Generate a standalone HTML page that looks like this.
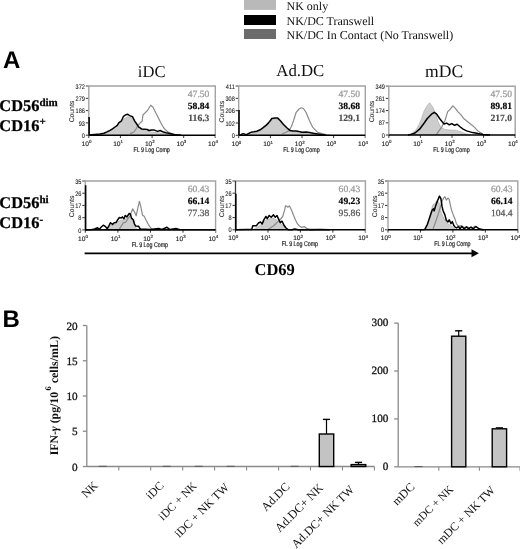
<!DOCTYPE html>
<html><head><meta charset="utf-8"><title>figure</title>
<style>html,body{margin:0;padding:0;background:#fff;width:520px;height:549px;overflow:hidden;}svg{display:block;will-change:transform;}text{text-rendering:geometricPrecision;}</style>
</head><body>
<svg width="520" height="549" viewBox="0 0 520 549">
<rect width="520" height="549" fill="#fff"/>
<rect x="244" y="0" width="32" height="9.9" fill="#b9b9b9"/>
<rect x="244" y="15" width="32" height="10" fill="#000"/>
<rect x="244" y="29" width="32" height="10" fill="#6c6c6c"/>
<text x="286.5" y="10.2" font-family='"Liberation Serif", serif' font-size="12" fill="#111">NK only</text>
<text x="286.5" y="24.6" font-family='"Liberation Serif", serif' font-size="12" fill="#111">NK/DC Transwell</text>
<text x="286.5" y="39.0" font-family='"Liberation Serif", serif' font-size="12" fill="#111">NK/DC In Contact (No Transwell)</text>
<text x="3" y="68" font-family='"Liberation Sans", sans-serif' font-weight="bold" font-size="24" fill="#000">A</text>
<text x="2.6" y="327.1" font-family='"Liberation Sans", sans-serif' font-weight="bold" font-size="24" fill="#000">B</text>
<text x="137.8" y="76.6" font-family='"Liberation Serif", serif' font-size="16.6" fill="#111">iDC</text>
<text x="276.3" y="76.2" font-family='"Liberation Serif", serif' font-size="16.8" fill="#111">Ad.DC</text>
<text x="425.0" y="76.5" font-family='"Liberation Serif", serif' font-size="17.6" fill="#111">mDC</text>
<text x="-0.7" y="111.1" font-family='"Liberation Serif", serif' font-weight="bold" font-size="16.4" fill="#000" stroke="#000" stroke-width="0.25">CD56<tspan dy="-5" font-size="11">dim</tspan></text>
<text x="-0.7" y="131.4" font-family='"Liberation Serif", serif' font-weight="bold" font-size="16.4" fill="#000" stroke="#000" stroke-width="0.25">CD16<tspan dy="-6" font-size="11">+</tspan></text>
<text x="-0.7" y="207.6" font-family='"Liberation Serif", serif' font-weight="bold" font-size="16.4" fill="#000" stroke="#000" stroke-width="0.25">CD56<tspan dy="-5" font-size="11">hi</tspan></text>
<text x="-0.7" y="227.6" font-family='"Liberation Serif", serif' font-weight="bold" font-size="16.4" fill="#000" stroke="#000" stroke-width="0.25">CD16<tspan dy="-5" font-size="11">-</tspan></text>
<line x1="85.8" y1="86.0" x2="88.8" y2="86.0" stroke="#333" stroke-width="1.0"/>
<text x="84.9" y="88.6" font-family='"Liberation Sans", sans-serif' font-size="6.6" fill="#222" stroke="#222" stroke-width="0.12" text-anchor="end" transform="translate(84.9,0) scale(0.85,1) translate(-84.9,0)">372</text>
<line x1="85.8" y1="98.3" x2="88.8" y2="98.3" stroke="#333" stroke-width="1.0"/>
<text x="84.9" y="100.9" font-family='"Liberation Sans", sans-serif' font-size="6.6" fill="#222" stroke="#222" stroke-width="0.12" text-anchor="end" transform="translate(84.9,0) scale(0.85,1) translate(-84.9,0)">279</text>
<line x1="85.8" y1="110.6" x2="88.8" y2="110.6" stroke="#333" stroke-width="1.0"/>
<text x="84.9" y="113.2" font-family='"Liberation Sans", sans-serif' font-size="6.6" fill="#222" stroke="#222" stroke-width="0.12" text-anchor="end" transform="translate(84.9,0) scale(0.85,1) translate(-84.9,0)">186</text>
<line x1="85.8" y1="122.9" x2="88.8" y2="122.9" stroke="#333" stroke-width="1.0"/>
<text x="84.9" y="125.5" font-family='"Liberation Sans", sans-serif' font-size="6.6" fill="#222" stroke="#222" stroke-width="0.12" text-anchor="end" transform="translate(84.9,0) scale(0.85,1) translate(-84.9,0)">93</text>
<line x1="85.8" y1="135.2" x2="88.8" y2="135.2" stroke="#333" stroke-width="1.0"/>
<text x="84.9" y="137.8" font-family='"Liberation Sans", sans-serif' font-size="6.6" fill="#222" stroke="#222" stroke-width="0.12" text-anchor="end" transform="translate(84.9,0) scale(0.85,1) translate(-84.9,0)">0</text>
<text x="0" y="0" font-family='"Liberation Sans", sans-serif' font-size="6.8" fill="#333" stroke="#333" stroke-width="0.12" text-anchor="middle" transform="translate(73.8,111.6) rotate(-90)">Counts</text>
<line x1="88.8" y1="135.2" x2="88.8" y2="138.0" stroke="#333" stroke-width="1.0"/>
<text x="86.5" y="145.8" font-family='"Liberation Sans", sans-serif' font-size="6.6" fill="#222" stroke="#222" stroke-width="0.15" text-anchor="middle">10<tspan dy="-2.4" font-size="4.4">0</tspan></text>
<line x1="120.4" y1="135.2" x2="120.4" y2="138.0" stroke="#333" stroke-width="1.0"/>
<text x="118.1" y="145.8" font-family='"Liberation Sans", sans-serif' font-size="6.6" fill="#222" stroke="#222" stroke-width="0.15" text-anchor="middle">10<tspan dy="-2.4" font-size="4.4">1</tspan></text>
<line x1="152.1" y1="135.2" x2="152.1" y2="138.0" stroke="#333" stroke-width="1.0"/>
<text x="149.8" y="145.8" font-family='"Liberation Sans", sans-serif' font-size="6.6" fill="#222" stroke="#222" stroke-width="0.15" text-anchor="middle">10<tspan dy="-2.4" font-size="4.4">2</tspan></text>
<line x1="183.7" y1="135.2" x2="183.7" y2="138.0" stroke="#333" stroke-width="1.0"/>
<text x="181.4" y="145.8" font-family='"Liberation Sans", sans-serif' font-size="6.6" fill="#222" stroke="#222" stroke-width="0.15" text-anchor="middle">10<tspan dy="-2.4" font-size="4.4">3</tspan></text>
<line x1="215.3" y1="135.2" x2="215.3" y2="138.0" stroke="#333" stroke-width="1.0"/>
<text x="213.0" y="145.8" font-family='"Liberation Sans", sans-serif' font-size="6.6" fill="#222" stroke="#222" stroke-width="0.15" text-anchor="middle">10<tspan dy="-2.4" font-size="4.4">4</tspan></text>
<text x="0" y="0" font-family='"Liberation Sans", sans-serif' font-size="6.8" fill="#222" stroke="#222" stroke-width="0.2" text-anchor="middle" transform="translate(151.6,151.8) scale(0.78,1)">FL 9 Log Comp</text>
<polygon points="89.0,135.2 89.0,135.0 99.0,134.5 107.5,132.5 113.0,128.5 118.3,124.5 123.0,119.5 127.7,116.5 131.0,117.5 134.0,120.5 137.0,125.0 140.0,128.5 145.0,131.0 152.0,132.0 160.0,133.0 166.0,133.8 174.0,134.8 174.0,135.2" fill="#cdcdcd" stroke="#a8a8a8" stroke-width="0.6"/>
<polyline points="130.0,133.6 134.0,132.0 136.0,129.0 138.0,125.5 140.0,123.2 142.2,121.0 142.9,115.0 145.8,112.1 147.5,110.5 149.0,108.0 150.7,105.2 153.0,107.2 155.6,112.4 158.3,117.7 160.9,123.0 163.5,127.5 165.5,129.8 168.0,132.0 173.0,134.3 181.0,135.2" fill="none" stroke="#8a8a8a" stroke-width="1.2" stroke-linejoin="round"/>
<polyline points="88.8,135.2 88.8,86.0 215.3,86.0 215.3,137.8" fill="none" stroke="#a3a3a3" stroke-width="1.4"/>
<line x1="86.0" y1="86.0" x2="88.8" y2="86.0" stroke="#a3a3a3" stroke-width="1.4"/>
<line x1="89.1" y1="117.0" x2="89.1" y2="135.2" stroke="#000" stroke-width="1.6"/>
<polyline points="89.0,135.0 100.0,134.0 104.0,133.2 106.9,131.9 110.0,130.3 112.5,128.8 115.0,127.0 117.3,125.3 118.7,122.9 121.5,120.8 123.5,116.3 125.6,114.9 127.4,114.2 129.8,115.6 132.5,116.7 134.6,120.8 136.4,123.5 138.6,126.8 141.9,129.1 144.5,129.2 147.1,129.5 149.1,130.5 151.5,129.9 154.3,130.1 157.6,131.4 160.2,130.5 163.5,132.1 166.0,132.7 168.5,133.2 174.4,134.4 181.0,135.2" fill="none" stroke="#000" stroke-width="1.5" stroke-linejoin="round"/>
<line x1="88.8" y1="135.2" x2="215.3" y2="135.2" stroke="#000" stroke-width="1.6"/>
<text x="209.4" y="97.0" font-family='"Liberation Serif", serif' font-size="9.6" font-weight="normal" fill="#9a9a9a" stroke="#9a9a9a" stroke-width="0.25" text-anchor="end">47.50</text>
<text x="209.4" y="108.8" font-family='"Liberation Serif", serif' font-size="9.6" font-weight="bold" fill="#000" stroke="#000" stroke-width="0.15" text-anchor="end">58.84</text>
<text x="209.4" y="120.7" font-family='"Liberation Serif", serif' font-size="9.6" font-weight="bold" fill="#4a4a4a" stroke="#4a4a4a" stroke-width="0.15" text-anchor="end">116.3</text>
<line x1="235.7" y1="86.0" x2="238.7" y2="86.0" stroke="#333" stroke-width="1.0"/>
<text x="234.8" y="88.6" font-family='"Liberation Sans", sans-serif' font-size="6.6" fill="#222" stroke="#222" stroke-width="0.12" text-anchor="end" transform="translate(234.8,0) scale(0.85,1) translate(-234.8,0)">411</text>
<line x1="235.7" y1="98.3" x2="238.7" y2="98.3" stroke="#333" stroke-width="1.0"/>
<text x="234.8" y="100.9" font-family='"Liberation Sans", sans-serif' font-size="6.6" fill="#222" stroke="#222" stroke-width="0.12" text-anchor="end" transform="translate(234.8,0) scale(0.85,1) translate(-234.8,0)">308</text>
<line x1="235.7" y1="110.7" x2="238.7" y2="110.7" stroke="#333" stroke-width="1.0"/>
<text x="234.8" y="113.2" font-family='"Liberation Sans", sans-serif' font-size="6.6" fill="#222" stroke="#222" stroke-width="0.12" text-anchor="end" transform="translate(234.8,0) scale(0.85,1) translate(-234.8,0)">206</text>
<line x1="235.7" y1="123.0" x2="238.7" y2="123.0" stroke="#333" stroke-width="1.0"/>
<text x="234.8" y="125.6" font-family='"Liberation Sans", sans-serif' font-size="6.6" fill="#222" stroke="#222" stroke-width="0.12" text-anchor="end" transform="translate(234.8,0) scale(0.85,1) translate(-234.8,0)">102</text>
<line x1="235.7" y1="135.3" x2="238.7" y2="135.3" stroke="#333" stroke-width="1.0"/>
<text x="234.8" y="137.9" font-family='"Liberation Sans", sans-serif' font-size="6.6" fill="#222" stroke="#222" stroke-width="0.12" text-anchor="end" transform="translate(234.8,0) scale(0.85,1) translate(-234.8,0)">0</text>
<text x="0" y="0" font-family='"Liberation Sans", sans-serif' font-size="6.8" fill="#333" stroke="#333" stroke-width="0.12" text-anchor="middle" transform="translate(223.7,111.7) rotate(-90)">Counts</text>
<line x1="238.7" y1="135.3" x2="238.7" y2="138.1" stroke="#333" stroke-width="1.0"/>
<text x="236.4" y="145.9" font-family='"Liberation Sans", sans-serif' font-size="6.6" fill="#222" stroke="#222" stroke-width="0.15" text-anchor="middle">10<tspan dy="-2.4" font-size="4.4">0</tspan></text>
<line x1="270.4" y1="135.3" x2="270.4" y2="138.1" stroke="#333" stroke-width="1.0"/>
<text x="268.1" y="145.9" font-family='"Liberation Sans", sans-serif' font-size="6.6" fill="#222" stroke="#222" stroke-width="0.15" text-anchor="middle">10<tspan dy="-2.4" font-size="4.4">1</tspan></text>
<line x1="302.0" y1="135.3" x2="302.0" y2="138.1" stroke="#333" stroke-width="1.0"/>
<text x="299.7" y="145.9" font-family='"Liberation Sans", sans-serif' font-size="6.6" fill="#222" stroke="#222" stroke-width="0.15" text-anchor="middle">10<tspan dy="-2.4" font-size="4.4">2</tspan></text>
<line x1="333.6" y1="135.3" x2="333.6" y2="138.1" stroke="#333" stroke-width="1.0"/>
<text x="331.3" y="145.9" font-family='"Liberation Sans", sans-serif' font-size="6.6" fill="#222" stroke="#222" stroke-width="0.15" text-anchor="middle">10<tspan dy="-2.4" font-size="4.4">3</tspan></text>
<line x1="365.3" y1="135.3" x2="365.3" y2="138.1" stroke="#333" stroke-width="1.0"/>
<text x="363.0" y="145.9" font-family='"Liberation Sans", sans-serif' font-size="6.6" fill="#222" stroke="#222" stroke-width="0.15" text-anchor="middle">10<tspan dy="-2.4" font-size="4.4">4</tspan></text>
<text x="0" y="0" font-family='"Liberation Sans", sans-serif' font-size="6.8" fill="#222" stroke="#222" stroke-width="0.2" text-anchor="middle" transform="translate(301.5,151.9) scale(0.78,1)">FL 9 Log Comp</text>
<polygon points="249.0,135.3 249.0,135.0 252.0,133.6 256.0,132.6 260.0,131.0 263.0,128.6 266.0,126.4 268.5,124.0 271.0,121.0 272.5,119.6 275.2,119.0 277.5,119.0 280.0,121.6 283.0,125.0 286.5,128.6 290.0,131.3 296.0,132.2 302.0,133.2 312.0,134.0 322.0,134.9 322.0,135.3" fill="#cdcdcd" stroke="#a8a8a8" stroke-width="0.6"/>
<polyline points="282.2,134.0 286.0,132.2 289.1,130.6 291.4,126.5 293.7,120.2 296.0,112.7 299.0,109.0 301.3,107.8 303.5,108.5 306.2,112.7 309.5,120.8 312.8,127.4 317.7,132.3 325.8,134.7 330.0,135.3" fill="none" stroke="#8a8a8a" stroke-width="1.2" stroke-linejoin="round"/>
<polyline points="238.7,135.3 238.7,86.0 365.3,86.0 365.3,137.9" fill="none" stroke="#a3a3a3" stroke-width="1.4"/>
<line x1="235.9" y1="86.0" x2="238.7" y2="86.0" stroke="#a3a3a3" stroke-width="1.4"/>
<line x1="239.0" y1="110.0" x2="239.0" y2="135.3" stroke="#000" stroke-width="1.6"/>
<polyline points="239.0,135.2 241.0,134.6 243.0,133.6 245.0,134.3 247.0,134.4 248.7,133.5 251.0,132.3 254.0,131.8 256.8,131.2 260.2,129.8 263.1,127.7 266.0,125.4 268.3,123.1 270.6,120.2 271.8,118.5 275.2,117.9 277.5,117.9 280.4,120.8 283.3,124.2 286.8,127.7 290.2,130.6 293.0,131.0 296.0,130.9 299.0,131.6 302.0,132.2 306.0,132.0 309.5,132.6 313.0,133.2 317.7,134.0 325.8,135.3" fill="none" stroke="#000" stroke-width="1.5" stroke-linejoin="round"/>
<line x1="238.7" y1="135.3" x2="365.3" y2="135.3" stroke="#000" stroke-width="1.6"/>
<text x="360.1" y="97.0" font-family='"Liberation Serif", serif' font-size="9.6" font-weight="normal" fill="#9a9a9a" stroke="#9a9a9a" stroke-width="0.25" text-anchor="end">47.50</text>
<text x="360.1" y="108.8" font-family='"Liberation Serif", serif' font-size="9.6" font-weight="bold" fill="#000" stroke="#000" stroke-width="0.15" text-anchor="end">38.68</text>
<text x="360.1" y="120.7" font-family='"Liberation Serif", serif' font-size="9.6" font-weight="bold" fill="#4a4a4a" stroke="#4a4a4a" stroke-width="0.15" text-anchor="end">129.1</text>
<line x1="385.8" y1="86.2" x2="388.8" y2="86.2" stroke="#333" stroke-width="1.0"/>
<text x="384.9" y="88.8" font-family='"Liberation Sans", sans-serif' font-size="6.6" fill="#222" stroke="#222" stroke-width="0.12" text-anchor="end" transform="translate(384.9,0) scale(0.85,1) translate(-384.9,0)">349</text>
<line x1="385.8" y1="98.4" x2="388.8" y2="98.4" stroke="#333" stroke-width="1.0"/>
<text x="384.9" y="101.0" font-family='"Liberation Sans", sans-serif' font-size="6.6" fill="#222" stroke="#222" stroke-width="0.12" text-anchor="end" transform="translate(384.9,0) scale(0.85,1) translate(-384.9,0)">261</text>
<line x1="385.8" y1="110.6" x2="388.8" y2="110.6" stroke="#333" stroke-width="1.0"/>
<text x="384.9" y="113.2" font-family='"Liberation Sans", sans-serif' font-size="6.6" fill="#222" stroke="#222" stroke-width="0.12" text-anchor="end" transform="translate(384.9,0) scale(0.85,1) translate(-384.9,0)">174</text>
<line x1="385.8" y1="122.8" x2="388.8" y2="122.8" stroke="#333" stroke-width="1.0"/>
<text x="384.9" y="125.4" font-family='"Liberation Sans", sans-serif' font-size="6.6" fill="#222" stroke="#222" stroke-width="0.12" text-anchor="end" transform="translate(384.9,0) scale(0.85,1) translate(-384.9,0)">87</text>
<line x1="385.8" y1="135.0" x2="388.8" y2="135.0" stroke="#333" stroke-width="1.0"/>
<text x="384.9" y="137.6" font-family='"Liberation Sans", sans-serif' font-size="6.6" fill="#222" stroke="#222" stroke-width="0.12" text-anchor="end" transform="translate(384.9,0) scale(0.85,1) translate(-384.9,0)">0</text>
<text x="0" y="0" font-family='"Liberation Sans", sans-serif' font-size="6.8" fill="#333" stroke="#333" stroke-width="0.12" text-anchor="middle" transform="translate(373.8,111.6) rotate(-90)">Counts</text>
<line x1="388.8" y1="135.0" x2="388.8" y2="137.8" stroke="#333" stroke-width="1.0"/>
<text x="386.5" y="145.6" font-family='"Liberation Sans", sans-serif' font-size="6.6" fill="#222" stroke="#222" stroke-width="0.15" text-anchor="middle">10<tspan dy="-2.4" font-size="4.4">0</tspan></text>
<line x1="420.4" y1="135.0" x2="420.4" y2="137.8" stroke="#333" stroke-width="1.0"/>
<text x="418.1" y="145.6" font-family='"Liberation Sans", sans-serif' font-size="6.6" fill="#222" stroke="#222" stroke-width="0.15" text-anchor="middle">10<tspan dy="-2.4" font-size="4.4">1</tspan></text>
<line x1="452.0" y1="135.0" x2="452.0" y2="137.8" stroke="#333" stroke-width="1.0"/>
<text x="449.7" y="145.6" font-family='"Liberation Sans", sans-serif' font-size="6.6" fill="#222" stroke="#222" stroke-width="0.15" text-anchor="middle">10<tspan dy="-2.4" font-size="4.4">2</tspan></text>
<line x1="483.6" y1="135.0" x2="483.6" y2="137.8" stroke="#333" stroke-width="1.0"/>
<text x="481.3" y="145.6" font-family='"Liberation Sans", sans-serif' font-size="6.6" fill="#222" stroke="#222" stroke-width="0.15" text-anchor="middle">10<tspan dy="-2.4" font-size="4.4">3</tspan></text>
<line x1="515.2" y1="135.0" x2="515.2" y2="137.8" stroke="#333" stroke-width="1.0"/>
<text x="512.9" y="145.6" font-family='"Liberation Sans", sans-serif' font-size="6.6" fill="#222" stroke="#222" stroke-width="0.15" text-anchor="middle">10<tspan dy="-2.4" font-size="4.4">4</tspan></text>
<text x="0" y="0" font-family='"Liberation Sans", sans-serif' font-size="6.8" fill="#222" stroke="#222" stroke-width="0.2" text-anchor="middle" transform="translate(451.5,151.6) scale(0.78,1)">FL 9 Log Comp</text>
<polygon points="409.6,135.0 409.6,134.8 413.0,132.5 416.5,129.2 419.0,124.5 421.0,120.0 424.2,110.8 427.3,105.4 429.6,102.8 432.7,107.0 435.8,113.8 438.0,121.5 441.0,127.7 445.0,129.5 450.0,130.0 455.0,130.2 460.0,131.5 465.0,133.5 470.0,134.8 470.0,135.0" fill="#cdcdcd" stroke="#a8a8a8" stroke-width="0.6"/>
<polyline points="436.3,134.6 441.5,127.4 445.0,120.5 447.6,111.8 450.2,109.2 452.8,105.8 455.4,108.4 458.0,111.8 460.6,114.4 464.0,118.8 468.3,122.2 472.7,125.7 477.9,130.9 483.0,134.3 488.0,135.0" fill="none" stroke="#8a8a8a" stroke-width="1.2" stroke-linejoin="round"/>
<polyline points="388.8,135.0 388.8,86.2 515.2,86.2 515.2,137.6" fill="none" stroke="#a3a3a3" stroke-width="1.4"/>
<line x1="386.0" y1="86.2" x2="388.8" y2="86.2" stroke="#a3a3a3" stroke-width="1.4"/>
<polyline points="408.0,135.0 410.4,134.6 415.0,133.0 419.6,129.2 424.2,123.0 427.3,118.5 432.0,113.8 434.2,112.3 436.5,113.8 439.6,118.5 442.0,121.5 444.1,124.0 446.7,123.1 449.3,124.8 451.9,123.6 454.5,125.3 457.1,124.3 459.7,126.5 463.1,129.1 466.6,130.9 472.7,132.6 478.0,133.6 483.0,134.4 490.0,135.0" fill="none" stroke="#000" stroke-width="1.5" stroke-linejoin="round"/>
<line x1="388.8" y1="135.0" x2="515.2" y2="135.0" stroke="#000" stroke-width="1.6"/>
<text x="512.0" y="97.2" font-family='"Liberation Serif", serif' font-size="9.6" font-weight="normal" fill="#9a9a9a" stroke="#9a9a9a" stroke-width="0.25" text-anchor="end">47.50</text>
<text x="512.0" y="109.0" font-family='"Liberation Serif", serif' font-size="9.6" font-weight="bold" fill="#000" stroke="#000" stroke-width="0.15" text-anchor="end">89.81</text>
<text x="512.0" y="120.9" font-family='"Liberation Serif", serif' font-size="9.6" font-weight="bold" fill="#4a4a4a" stroke="#4a4a4a" stroke-width="0.15" text-anchor="end">217.0</text>
<line x1="82.3" y1="181.0" x2="85.3" y2="181.0" stroke="#333" stroke-width="1.0"/>
<text x="81.4" y="183.6" font-family='"Liberation Sans", sans-serif' font-size="6.6" fill="#222" stroke="#222" stroke-width="0.12" text-anchor="end" transform="translate(81.4,0) scale(0.85,1) translate(-81.4,0)">35</text>
<line x1="82.3" y1="193.2" x2="85.3" y2="193.2" stroke="#333" stroke-width="1.0"/>
<text x="81.4" y="195.8" font-family='"Liberation Sans", sans-serif' font-size="6.6" fill="#222" stroke="#222" stroke-width="0.12" text-anchor="end" transform="translate(81.4,0) scale(0.85,1) translate(-81.4,0)">26</text>
<line x1="82.3" y1="205.4" x2="85.3" y2="205.4" stroke="#333" stroke-width="1.0"/>
<text x="81.4" y="208.0" font-family='"Liberation Sans", sans-serif' font-size="6.6" fill="#222" stroke="#222" stroke-width="0.12" text-anchor="end" transform="translate(81.4,0) scale(0.85,1) translate(-81.4,0)">17</text>
<line x1="82.3" y1="217.7" x2="85.3" y2="217.7" stroke="#333" stroke-width="1.0"/>
<text x="81.4" y="220.3" font-family='"Liberation Sans", sans-serif' font-size="6.6" fill="#222" stroke="#222" stroke-width="0.12" text-anchor="end" transform="translate(81.4,0) scale(0.85,1) translate(-81.4,0)">8</text>
<line x1="82.3" y1="229.9" x2="85.3" y2="229.9" stroke="#333" stroke-width="1.0"/>
<text x="81.4" y="232.5" font-family='"Liberation Sans", sans-serif' font-size="6.6" fill="#222" stroke="#222" stroke-width="0.12" text-anchor="end" transform="translate(81.4,0) scale(0.85,1) translate(-81.4,0)">0</text>
<text x="0" y="0" font-family='"Liberation Sans", sans-serif' font-size="6.8" fill="#333" stroke="#333" stroke-width="0.12" text-anchor="middle" transform="translate(74.0,206.4) rotate(-90)">Counts</text>
<line x1="85.3" y1="229.9" x2="85.3" y2="232.7" stroke="#333" stroke-width="1.0"/>
<text x="83.0" y="240.5" font-family='"Liberation Sans", sans-serif' font-size="6.6" fill="#222" stroke="#222" stroke-width="0.15" text-anchor="middle">10<tspan dy="-2.4" font-size="4.4">0</tspan></text>
<line x1="117.9" y1="229.9" x2="117.9" y2="232.7" stroke="#333" stroke-width="1.0"/>
<text x="115.6" y="240.5" font-family='"Liberation Sans", sans-serif' font-size="6.6" fill="#222" stroke="#222" stroke-width="0.15" text-anchor="middle">10<tspan dy="-2.4" font-size="4.4">1</tspan></text>
<line x1="150.4" y1="229.9" x2="150.4" y2="232.7" stroke="#333" stroke-width="1.0"/>
<text x="148.1" y="240.5" font-family='"Liberation Sans", sans-serif' font-size="6.6" fill="#222" stroke="#222" stroke-width="0.15" text-anchor="middle">10<tspan dy="-2.4" font-size="4.4">2</tspan></text>
<line x1="183.0" y1="229.9" x2="183.0" y2="232.7" stroke="#333" stroke-width="1.0"/>
<text x="180.7" y="240.5" font-family='"Liberation Sans", sans-serif' font-size="6.6" fill="#222" stroke="#222" stroke-width="0.15" text-anchor="middle">10<tspan dy="-2.4" font-size="4.4">3</tspan></text>
<line x1="215.6" y1="229.9" x2="215.6" y2="232.7" stroke="#333" stroke-width="1.0"/>
<text x="213.3" y="240.5" font-family='"Liberation Sans", sans-serif' font-size="6.6" fill="#222" stroke="#222" stroke-width="0.15" text-anchor="middle">10<tspan dy="-2.4" font-size="4.4">4</tspan></text>
<text x="0" y="0" font-family='"Liberation Sans", sans-serif' font-size="6.8" fill="#222" stroke="#222" stroke-width="0.2" text-anchor="middle" transform="translate(149.9,246.5) scale(0.78,1)">FL 9 Log Comp</text>
<polygon points="106.2,229.9 106.2,229.8 108.0,227.2 110.5,225.2 113.0,225.0 116.0,223.6 118.5,221.3 121.0,220.3 124.0,219.8 126.5,218.6 129.0,217.2 130.5,217.4 132.0,219.5 134.0,223.5 135.5,226.5 137.0,229.8 137.0,229.9" fill="#cdcdcd" stroke="#a8a8a8" stroke-width="0.6"/>
<polyline points="119.0,229.6 121.2,226.2 123.5,222.7 125.8,222.1 127.5,219.2 129.8,215.8 131.5,212.3 132.7,208.8 134.4,211.7 136.2,215.8 137.9,207.7 139.4,201.3 140.8,206.5 142.5,215.2 144.2,216.3 146.5,221.0 149.4,226.2 152.0,229.3 155.0,229.8" fill="none" stroke="#8a8a8a" stroke-width="1.2" stroke-linejoin="round"/>
<polyline points="85.3,229.9 85.3,181.0 215.6,181.0 215.6,232.5" fill="none" stroke="#a3a3a3" stroke-width="1.4"/>
<line x1="82.5" y1="181.0" x2="85.3" y2="181.0" stroke="#a3a3a3" stroke-width="1.4"/>
<line x1="85.6" y1="185.3" x2="85.6" y2="229.9" stroke="#000" stroke-width="1.6"/>
<polyline points="85.5,229.8 92.0,229.6 94.6,229.0 97.5,227.7 99.2,229.4 101.0,227.3 103.3,225.2 105.6,226.7 107.3,228.7 109.0,225.6 110.5,222.7 112.5,224.4 114.2,222.7 116.0,222.5 117.7,219.8 119.4,217.5 121.2,218.1 122.3,216.9 124.0,218.7 125.2,215.5 126.9,216.9 129.2,213.5 130.4,214.0 131.5,218.1 133.3,219.8 134.4,223.8 135.6,225.9 138.5,226.2 140.2,229.0 150.0,229.5 158.5,228.5 162.0,229.5 167.0,227.3 170.0,229.5 175.8,228.5 180.0,229.8" fill="none" stroke="#000" stroke-width="1.5" stroke-linejoin="round"/>
<line x1="85.3" y1="229.9" x2="215.6" y2="229.9" stroke="#000" stroke-width="1.6"/>
<text x="209.4" y="192.0" font-family='"Liberation Serif", serif' font-size="9.6" font-weight="normal" fill="#9a9a9a" stroke="#9a9a9a" stroke-width="0.25" text-anchor="end">60.43</text>
<text x="209.4" y="203.8" font-family='"Liberation Serif", serif' font-size="9.6" font-weight="bold" fill="#000" stroke="#000" stroke-width="0.15" text-anchor="end">66.14</text>
<text x="209.4" y="215.7" font-family='"Liberation Serif", serif' font-size="9.6" font-weight="normal" fill="#555" stroke="#555" stroke-width="0.25" text-anchor="end">77.38</text>
<line x1="232.5" y1="181.0" x2="235.5" y2="181.0" stroke="#333" stroke-width="1.0"/>
<text x="231.6" y="183.6" font-family='"Liberation Sans", sans-serif' font-size="6.6" fill="#222" stroke="#222" stroke-width="0.12" text-anchor="end" transform="translate(231.6,0) scale(0.85,1) translate(-231.6,0)">35</text>
<line x1="232.5" y1="193.2" x2="235.5" y2="193.2" stroke="#333" stroke-width="1.0"/>
<text x="231.6" y="195.8" font-family='"Liberation Sans", sans-serif' font-size="6.6" fill="#222" stroke="#222" stroke-width="0.12" text-anchor="end" transform="translate(231.6,0) scale(0.85,1) translate(-231.6,0)">26</text>
<line x1="232.5" y1="205.4" x2="235.5" y2="205.4" stroke="#333" stroke-width="1.0"/>
<text x="231.6" y="208.0" font-family='"Liberation Sans", sans-serif' font-size="6.6" fill="#222" stroke="#222" stroke-width="0.12" text-anchor="end" transform="translate(231.6,0) scale(0.85,1) translate(-231.6,0)">17</text>
<line x1="232.5" y1="217.6" x2="235.5" y2="217.6" stroke="#333" stroke-width="1.0"/>
<text x="231.6" y="220.2" font-family='"Liberation Sans", sans-serif' font-size="6.6" fill="#222" stroke="#222" stroke-width="0.12" text-anchor="end" transform="translate(231.6,0) scale(0.85,1) translate(-231.6,0)">8</text>
<line x1="232.5" y1="229.8" x2="235.5" y2="229.8" stroke="#333" stroke-width="1.0"/>
<text x="231.6" y="232.4" font-family='"Liberation Sans", sans-serif' font-size="6.6" fill="#222" stroke="#222" stroke-width="0.12" text-anchor="end" transform="translate(231.6,0) scale(0.85,1) translate(-231.6,0)">0</text>
<text x="0" y="0" font-family='"Liberation Sans", sans-serif' font-size="6.8" fill="#333" stroke="#333" stroke-width="0.12" text-anchor="middle" transform="translate(224.2,206.4) rotate(-90)">Counts</text>
<line x1="235.5" y1="229.8" x2="235.5" y2="232.6" stroke="#333" stroke-width="1.0"/>
<text x="233.2" y="240.4" font-family='"Liberation Sans", sans-serif' font-size="6.6" fill="#222" stroke="#222" stroke-width="0.15" text-anchor="middle">10<tspan dy="-2.4" font-size="4.4">0</tspan></text>
<line x1="268.0" y1="229.8" x2="268.0" y2="232.6" stroke="#333" stroke-width="1.0"/>
<text x="265.7" y="240.4" font-family='"Liberation Sans", sans-serif' font-size="6.6" fill="#222" stroke="#222" stroke-width="0.15" text-anchor="middle">10<tspan dy="-2.4" font-size="4.4">1</tspan></text>
<line x1="300.4" y1="229.8" x2="300.4" y2="232.6" stroke="#333" stroke-width="1.0"/>
<text x="298.1" y="240.4" font-family='"Liberation Sans", sans-serif' font-size="6.6" fill="#222" stroke="#222" stroke-width="0.15" text-anchor="middle">10<tspan dy="-2.4" font-size="4.4">2</tspan></text>
<line x1="332.9" y1="229.8" x2="332.9" y2="232.6" stroke="#333" stroke-width="1.0"/>
<text x="330.6" y="240.4" font-family='"Liberation Sans", sans-serif' font-size="6.6" fill="#222" stroke="#222" stroke-width="0.15" text-anchor="middle">10<tspan dy="-2.4" font-size="4.4">3</tspan></text>
<line x1="365.4" y1="229.8" x2="365.4" y2="232.6" stroke="#333" stroke-width="1.0"/>
<text x="363.1" y="240.4" font-family='"Liberation Sans", sans-serif' font-size="6.6" fill="#222" stroke="#222" stroke-width="0.15" text-anchor="middle">10<tspan dy="-2.4" font-size="4.4">4</tspan></text>
<text x="0" y="0" font-family='"Liberation Sans", sans-serif' font-size="6.8" fill="#222" stroke="#222" stroke-width="0.2" text-anchor="middle" transform="translate(299.9,246.4) scale(0.78,1)">FL 9 Log Comp</text>
<polygon points="252.8,229.8 252.8,229.8 256.0,228.0 260.0,225.5 263.0,222.5 266.0,220.2 269.0,219.0 272.0,218.2 275.0,219.0 278.0,221.0 281.0,224.0 284.0,227.0 286.0,229.8 286.0,229.8" fill="#cdcdcd" stroke="#a8a8a8" stroke-width="0.6"/>
<polyline points="268.0,229.6 271.0,227.5 274.0,225.5 277.0,222.5 279.3,220.6 282.7,216.5 284.7,209.8 285.4,205.8 286.7,206.4 288.1,207.1 289.4,205.8 291.4,209.8 293.5,215.2 295.5,219.9 297.5,223.9 299.5,226.0 301.5,227.3 304.2,226.6 306.9,228.6 310.0,229.6 314.0,229.8" fill="none" stroke="#8a8a8a" stroke-width="1.2" stroke-linejoin="round"/>
<polyline points="235.5,229.8 235.5,181.0 365.4,181.0 365.4,232.4" fill="none" stroke="#a3a3a3" stroke-width="1.4"/>
<line x1="232.7" y1="181.0" x2="235.5" y2="181.0" stroke="#a3a3a3" stroke-width="1.4"/>
<line x1="235.5" y1="181.0" x2="235.5" y2="229.8" stroke="#3a3a3a" stroke-width="1.1"/>
<line x1="235.8" y1="193.7" x2="235.8" y2="229.8" stroke="#000" stroke-width="1.6"/>
<polyline points="235.7,229.8 247.0,229.4 251.7,229.4 252.8,225.7 256.4,225.7 258.5,223.0 260.5,221.9 262.2,223.9 263.8,219.9 265.9,216.5 267.2,218.6 269.2,215.5 271.2,217.2 273.5,214.9 275.3,217.2 277.0,215.5 278.6,219.2 280.3,222.6 282.0,221.2 284.0,225.3 286.0,228.0 288.1,229.7 292.0,229.8 294.8,228.9 298.0,229.8 320.0,229.4 330.0,229.8" fill="none" stroke="#000" stroke-width="1.5" stroke-linejoin="round"/>
<line x1="235.5" y1="229.8" x2="365.4" y2="229.8" stroke="#000" stroke-width="1.6"/>
<text x="360.2" y="192.0" font-family='"Liberation Serif", serif' font-size="9.6" font-weight="normal" fill="#9a9a9a" stroke="#9a9a9a" stroke-width="0.25" text-anchor="end">60.43</text>
<text x="360.2" y="203.8" font-family='"Liberation Serif", serif' font-size="9.6" font-weight="bold" fill="#000" stroke="#000" stroke-width="0.15" text-anchor="end">49.23</text>
<text x="360.2" y="215.7" font-family='"Liberation Serif", serif' font-size="9.6" font-weight="normal" fill="#555" stroke="#555" stroke-width="0.25" text-anchor="end">95.86</text>
<line x1="385.0" y1="181.0" x2="388.0" y2="181.0" stroke="#333" stroke-width="1.0"/>
<text x="384.1" y="183.6" font-family='"Liberation Sans", sans-serif' font-size="6.6" fill="#222" stroke="#222" stroke-width="0.12" text-anchor="end" transform="translate(384.1,0) scale(0.85,1) translate(-384.1,0)">35</text>
<line x1="385.0" y1="193.2" x2="388.0" y2="193.2" stroke="#333" stroke-width="1.0"/>
<text x="384.1" y="195.8" font-family='"Liberation Sans", sans-serif' font-size="6.6" fill="#222" stroke="#222" stroke-width="0.12" text-anchor="end" transform="translate(384.1,0) scale(0.85,1) translate(-384.1,0)">26</text>
<line x1="385.0" y1="205.4" x2="388.0" y2="205.4" stroke="#333" stroke-width="1.0"/>
<text x="384.1" y="208.0" font-family='"Liberation Sans", sans-serif' font-size="6.6" fill="#222" stroke="#222" stroke-width="0.12" text-anchor="end" transform="translate(384.1,0) scale(0.85,1) translate(-384.1,0)">17</text>
<line x1="385.0" y1="217.6" x2="388.0" y2="217.6" stroke="#333" stroke-width="1.0"/>
<text x="384.1" y="220.2" font-family='"Liberation Sans", sans-serif' font-size="6.6" fill="#222" stroke="#222" stroke-width="0.12" text-anchor="end" transform="translate(384.1,0) scale(0.85,1) translate(-384.1,0)">8</text>
<line x1="385.0" y1="229.8" x2="388.0" y2="229.8" stroke="#333" stroke-width="1.0"/>
<text x="384.1" y="232.4" font-family='"Liberation Sans", sans-serif' font-size="6.6" fill="#222" stroke="#222" stroke-width="0.12" text-anchor="end" transform="translate(384.1,0) scale(0.85,1) translate(-384.1,0)">0</text>
<text x="0" y="0" font-family='"Liberation Sans", sans-serif' font-size="6.8" fill="#333" stroke="#333" stroke-width="0.12" text-anchor="middle" transform="translate(376.7,206.4) rotate(-90)">Counts</text>
<line x1="388.0" y1="229.8" x2="388.0" y2="232.6" stroke="#333" stroke-width="1.0"/>
<text x="385.7" y="240.4" font-family='"Liberation Sans", sans-serif' font-size="6.6" fill="#222" stroke="#222" stroke-width="0.15" text-anchor="middle">10<tspan dy="-2.4" font-size="4.4">0</tspan></text>
<line x1="420.4" y1="229.8" x2="420.4" y2="232.6" stroke="#333" stroke-width="1.0"/>
<text x="418.1" y="240.4" font-family='"Liberation Sans", sans-serif' font-size="6.6" fill="#222" stroke="#222" stroke-width="0.15" text-anchor="middle">10<tspan dy="-2.4" font-size="4.4">1</tspan></text>
<line x1="452.9" y1="229.8" x2="452.9" y2="232.6" stroke="#333" stroke-width="1.0"/>
<text x="450.6" y="240.4" font-family='"Liberation Sans", sans-serif' font-size="6.6" fill="#222" stroke="#222" stroke-width="0.15" text-anchor="middle">10<tspan dy="-2.4" font-size="4.4">2</tspan></text>
<line x1="485.3" y1="229.8" x2="485.3" y2="232.6" stroke="#333" stroke-width="1.0"/>
<text x="483.0" y="240.4" font-family='"Liberation Sans", sans-serif' font-size="6.6" fill="#222" stroke="#222" stroke-width="0.15" text-anchor="middle">10<tspan dy="-2.4" font-size="4.4">3</tspan></text>
<line x1="517.8" y1="229.8" x2="517.8" y2="232.6" stroke="#333" stroke-width="1.0"/>
<text x="515.5" y="240.4" font-family='"Liberation Sans", sans-serif' font-size="6.6" fill="#222" stroke="#222" stroke-width="0.15" text-anchor="middle">10<tspan dy="-2.4" font-size="4.4">4</tspan></text>
<text x="0" y="0" font-family='"Liberation Sans", sans-serif' font-size="6.8" fill="#222" stroke="#222" stroke-width="0.2" text-anchor="middle" transform="translate(452.4,246.4) scale(0.78,1)">FL 9 Log Comp</text>
<polygon points="425.4,229.8 425.4,229.8 428.1,222.3 430.8,212.2 432.8,204.8 434.8,203.5 436.8,200.8 438.9,202.1 440.2,207.5 441.6,213.6 444.2,218.9 446.9,223.0 450.3,225.3 453.0,227.0 455.7,229.8 455.7,229.8" fill="#cdcdcd" stroke="#a8a8a8" stroke-width="0.6"/>
<polyline points="432.8,229.6 435.5,222.3 438.2,214.2 440.2,207.5 442.2,200.8 443.6,198.1 444.9,196.7 446.3,200.1 447.9,198.1 449.2,199.4 450.3,204.8 451.6,210.2 453.3,214.9 455.0,218.9 456.4,223.6 458.4,226.1 461.1,225.7 463.8,227.7 466.5,227.0 471.8,228.0 475.2,226.3 478.6,228.4 482.6,229.6" fill="none" stroke="#8a8a8a" stroke-width="1.2" stroke-linejoin="round"/>
<polyline points="388.0,229.8 388.0,181.0 517.8,181.0 517.8,232.4" fill="none" stroke="#a3a3a3" stroke-width="1.4"/>
<line x1="385.2" y1="181.0" x2="388.0" y2="181.0" stroke="#a3a3a3" stroke-width="1.4"/>
<polyline points="420.0,229.8 424.7,229.6 427.4,224.3 430.1,216.2 432.1,210.2 433.5,208.8 434.2,210.9 435.5,206.2 437.5,200.8 439.5,196.1 440.9,198.7 442.0,206.2 442.9,210.2 444.9,214.9 446.3,220.3 447.9,222.0 449.2,219.9 451.0,223.6 452.3,221.6 453.7,225.3 455.0,227.0 456.4,228.0 458.4,226.5 460.0,228.8 462.0,226.3 464.0,228.8 466.5,226.8 468.5,228.8 471.0,227.0 473.0,228.8 476.0,226.5 478.5,228.5 481.3,229.6 484.0,229.8" fill="none" stroke="#000" stroke-width="1.5" stroke-linejoin="round"/>
<line x1="388.0" y1="229.8" x2="517.8" y2="229.8" stroke="#000" stroke-width="1.6"/>
<text x="512.6" y="192.0" font-family='"Liberation Serif", serif' font-size="9.6" font-weight="normal" fill="#9a9a9a" stroke="#9a9a9a" stroke-width="0.25" text-anchor="end">60.43</text>
<text x="512.6" y="203.8" font-family='"Liberation Serif", serif' font-size="9.6" font-weight="bold" fill="#000" stroke="#000" stroke-width="0.15" text-anchor="end">66.14</text>
<text x="512.6" y="215.7" font-family='"Liberation Serif", serif' font-size="9.6" font-weight="normal" fill="#555" stroke="#555" stroke-width="0.25" text-anchor="end">104.4</text>
<line x1="84.6" y1="253.4" x2="472.5" y2="253.4" stroke="#000" stroke-width="1.6"/>
<polygon points="471.5,249.3 478.9,253.3 471.5,257.3" fill="#000"/>
<text x="254.5" y="274.9" font-family='"Liberation Serif", serif' font-weight="bold" font-size="16.5" fill="#000">CD69</text>
<line x1="86.8" y1="325.5" x2="86.8" y2="466.5" stroke="#8a8a8a" stroke-width="1.3"/>
<line x1="86.8" y1="466.5" x2="374.44" y2="466.5" stroke="#8a8a8a" stroke-width="1.3"/>
<line x1="82.8" y1="325.5" x2="86.8" y2="325.5" stroke="#8a8a8a" stroke-width="1.3"/>
<text x="77.6" y="329.5" font-family='"Liberation Serif", serif' font-size="11.2" fill="#111" stroke="#111" stroke-width="0.3" text-anchor="end">20</text>
<line x1="82.8" y1="360.8" x2="86.8" y2="360.8" stroke="#8a8a8a" stroke-width="1.3"/>
<text x="77.6" y="364.8" font-family='"Liberation Serif", serif' font-size="11.2" fill="#111" stroke="#111" stroke-width="0.3" text-anchor="end">15</text>
<line x1="82.8" y1="396.0" x2="86.8" y2="396.0" stroke="#8a8a8a" stroke-width="1.3"/>
<text x="77.6" y="400.0" font-family='"Liberation Serif", serif' font-size="11.2" fill="#111" stroke="#111" stroke-width="0.3" text-anchor="end">10</text>
<line x1="82.8" y1="431.2" x2="86.8" y2="431.2" stroke="#8a8a8a" stroke-width="1.3"/>
<text x="77.6" y="435.2" font-family='"Liberation Serif", serif' font-size="11.2" fill="#111" stroke="#111" stroke-width="0.3" text-anchor="end">5</text>
<line x1="82.8" y1="466.5" x2="86.8" y2="466.5" stroke="#8a8a8a" stroke-width="1.3"/>
<text x="77.6" y="470.5" font-family='"Liberation Serif", serif' font-size="11.2" fill="#111" stroke="#111" stroke-width="0.3" text-anchor="end">0</text>
<line x1="118.8" y1="466.5" x2="118.8" y2="470.5" stroke="#8a8a8a" stroke-width="1.1"/>
<line x1="150.7" y1="466.5" x2="150.7" y2="470.5" stroke="#8a8a8a" stroke-width="1.1"/>
<line x1="182.7" y1="466.5" x2="182.7" y2="470.5" stroke="#8a8a8a" stroke-width="1.1"/>
<line x1="214.6" y1="466.5" x2="214.6" y2="470.5" stroke="#8a8a8a" stroke-width="1.1"/>
<line x1="246.6" y1="466.5" x2="246.6" y2="470.5" stroke="#8a8a8a" stroke-width="1.1"/>
<line x1="278.6" y1="466.5" x2="278.6" y2="470.5" stroke="#8a8a8a" stroke-width="1.1"/>
<line x1="310.5" y1="466.5" x2="310.5" y2="470.5" stroke="#8a8a8a" stroke-width="1.1"/>
<line x1="342.5" y1="466.5" x2="342.5" y2="470.5" stroke="#8a8a8a" stroke-width="1.1"/>
<line x1="374.4" y1="466.5" x2="374.4" y2="470.5" stroke="#8a8a8a" stroke-width="1.1"/>
<line x1="326.5" y1="419.4" x2="326.5" y2="434" stroke="#000" stroke-width="1.2"/>
<line x1="322.9" y1="419.4" x2="330.1" y2="419.4" stroke="#000" stroke-width="1.4"/>
<rect x="319.3" y="434" width="14.4" height="32.5" fill="#c3c3c3" stroke="#000" stroke-width="1.4"/>
<line x1="358.5" y1="462.4" x2="358.5" y2="464.6" stroke="#000" stroke-width="1.2"/>
<line x1="354.9" y1="462.4" x2="362.1" y2="462.4" stroke="#000" stroke-width="1.4"/>
<rect x="351.16" y="464.6" width="14.6" height="1.9" fill="#c3c3c3" stroke="#000" stroke-width="1.4"/>
<text x="0" y="0" font-family='"Liberation Serif", serif' font-size="12" fill="#111" text-anchor="end" transform="translate(98.6,486.3) rotate(-45)">NK</text>
<text x="0" y="0" font-family='"Liberation Serif", serif' font-size="11.7" fill="#111" text-anchor="end" transform="translate(164.4,486.3) rotate(-45)">iDC</text>
<text x="0" y="0" font-family='"Liberation Serif", serif' font-size="11.7" fill="#111" text-anchor="end" transform="translate(197.6,486.4) rotate(-45)">iDC + NK</text>
<text x="0" y="0" font-family='"Liberation Serif", serif' font-size="11.95" fill="#111" text-anchor="end" transform="translate(229.6,488.0) rotate(-45)">iDC + NK TW</text>
<text x="0" y="0" font-family='"Liberation Serif", serif' font-size="12" fill="#111" text-anchor="end" transform="translate(290.4,487.4) rotate(-45)">Ad.DC</text>
<text x="0" y="0" font-family='"Liberation Serif", serif' font-size="12.2" fill="#111" text-anchor="end" transform="translate(323.9,488.6) rotate(-45)">Ad.DC+ NK</text>
<text x="0" y="0" font-family='"Liberation Serif", serif' font-size="12" fill="#111" text-anchor="end" transform="translate(354.8,490.2) rotate(-45)">Ad.DC+ NK TW</text>
<line x1="98.8" y1="466.3" x2="106.8" y2="466.3" stroke="#555" stroke-width="1.0"/>
<line x1="162.7" y1="466.3" x2="170.7" y2="466.3" stroke="#555" stroke-width="1.0"/>
<line x1="194.7" y1="466.3" x2="202.7" y2="466.3" stroke="#555" stroke-width="1.0"/>
<line x1="226.6" y1="466.3" x2="234.6" y2="466.3" stroke="#555" stroke-width="1.0"/>
<line x1="290.5" y1="466.3" x2="298.5" y2="466.3" stroke="#555" stroke-width="1.0"/>
<line x1="398.2" y1="323.1" x2="398.2" y2="466.8" stroke="#8a8a8a" stroke-width="1.3"/>
<line x1="398.2" y1="466.8" x2="520" y2="466.8" stroke="#8a8a8a" stroke-width="1.3"/>
<line x1="394.2" y1="323.1" x2="398.2" y2="323.1" stroke="#8a8a8a" stroke-width="1.3"/>
<text x="388.4" y="325.8" font-family='"Liberation Serif", serif' font-size="11.2" fill="#111" stroke="#111" stroke-width="0.3" text-anchor="end">300</text>
<line x1="394.2" y1="371.0" x2="398.2" y2="371.0" stroke="#8a8a8a" stroke-width="1.3"/>
<text x="388.4" y="373.7" font-family='"Liberation Serif", serif' font-size="11.2" fill="#111" stroke="#111" stroke-width="0.3" text-anchor="end">200</text>
<line x1="394.2" y1="418.9" x2="398.2" y2="418.9" stroke="#8a8a8a" stroke-width="1.3"/>
<text x="388.4" y="421.6" font-family='"Liberation Serif", serif' font-size="11.2" fill="#111" stroke="#111" stroke-width="0.3" text-anchor="end">100</text>
<line x1="394.2" y1="466.8" x2="398.2" y2="466.8" stroke="#8a8a8a" stroke-width="1.3"/>
<text x="388.4" y="469.5" font-family='"Liberation Serif", serif' font-size="11.2" fill="#111" stroke="#111" stroke-width="0.3" text-anchor="end">0</text>
<line x1="438.8" y1="466.8" x2="438.8" y2="470.8" stroke="#8a8a8a" stroke-width="1.1"/>
<line x1="479.4" y1="466.8" x2="479.4" y2="470.8" stroke="#8a8a8a" stroke-width="1.1"/>
<line x1="520.0" y1="466.8" x2="520.0" y2="470.8" stroke="#8a8a8a" stroke-width="1.1"/>
<line x1="458.7" y1="330.8" x2="458.7" y2="336.2" stroke="#000" stroke-width="1.2"/>
<line x1="455.1" y1="330.8" x2="462.3" y2="330.8" stroke="#000" stroke-width="1.4"/>
<rect x="451.6" y="336.2" width="14.2" height="130.6" fill="#c3c3c3" stroke="#000" stroke-width="1.4"/>
<line x1="499.4" y1="427.9" x2="499.4" y2="428.8" stroke="#000" stroke-width="1.2"/>
<line x1="495.8" y1="427.9" x2="503.0" y2="427.9" stroke="#000" stroke-width="1.4"/>
<rect x="492.2" y="428.8" width="14.4" height="38.0" fill="#c3c3c3" stroke="#000" stroke-width="1.4"/>
<text x="0" y="0" font-family='"Liberation Serif", serif' font-size="12" fill="#111" text-anchor="end" transform="translate(415.4,487.6) rotate(-45)">mDC</text>
<text x="0" y="0" font-family='"Liberation Serif", serif' font-size="11.2" fill="#111" text-anchor="end" transform="translate(453.9,490.0) rotate(-45)">mDC + NK</text>
<text x="0" y="0" font-family='"Liberation Serif", serif' font-size="11.8" fill="#111" text-anchor="end" transform="translate(495.6,490.9) rotate(-45)">mDC + NK TW</text>
<line x1="414.5" y1="466.6" x2="422.5" y2="466.6" stroke="#555" stroke-width="1.0"/>
<text x="0" y="0" font-family='"Liberation Serif", serif' font-weight="bold" font-size="11.75" fill="#111" text-anchor="start" transform="translate(58.4,455.3) rotate(-90)">IFN-<tspan font-style="italic">γ</tspan> (pg/10<tspan dx="1.4" dy="-7.1" font-size="8.6">6</tspan><tspan dy="7.1" font-size="12"> cells/mL)</tspan></text>
</svg>
</body></html>
